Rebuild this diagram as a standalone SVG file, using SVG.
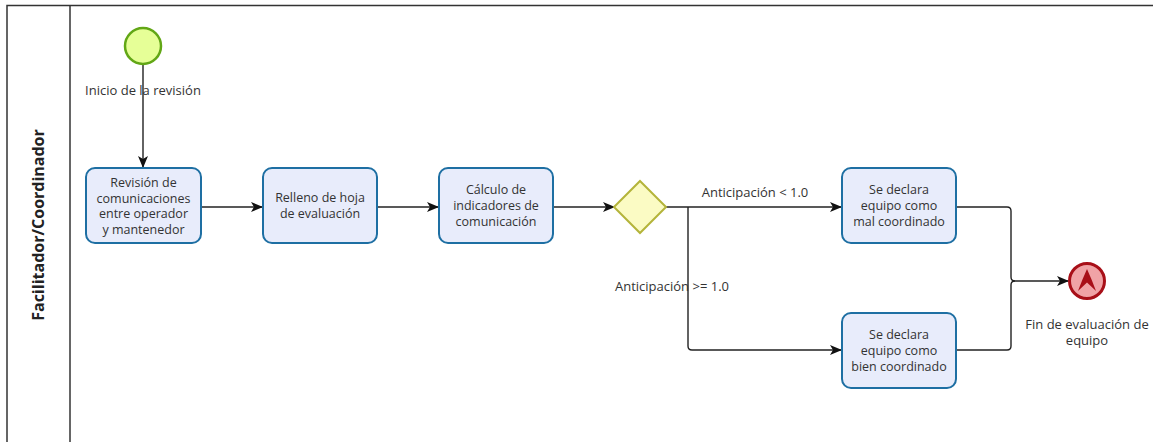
<svg xmlns="http://www.w3.org/2000/svg" width="1153" height="442" viewBox="0 0 1153 442">
  <style>
    .lbl { font-family: "Open Sans", "Noto Sans", sans-serif; font-size: 13px; fill: #333; text-anchor: middle; }
    .tl { font-family: "Open Sans", "Noto Sans", sans-serif; font-size: 12.5px; fill: #333; text-anchor: middle; }
    .task { fill: #e8ecfb; stroke: #1e6fa3; stroke-width: 2; }
    .flow { fill: none; stroke: #222; stroke-width: 1.4; }
    .pool { fill: none; stroke: #333; stroke-width: 1.5; }
  </style>
  <defs>
    <marker id="arrow" viewBox="0 0 12 10" refX="11" refY="5" markerWidth="12" markerHeight="10" markerUnits="userSpaceOnUse" orient="auto">
      <path d="M0,0 L12,5 L0,10 L3,5 z" fill="#111"/>
    </marker>
  </defs>
  <rect width="1153" height="442" fill="#fff"/>

  <!-- pool and lane -->
  <g id="pool">
    <path class="pool" d="M7,442 L7,5.5 L1153,5.5"/>
    <line class="pool" x1="70" y1="5.5" x2="70" y2="442"/>
    <text transform="translate(44,225) rotate(-90)" style="font-family:'Open Sans','Noto Sans',sans-serif;font-size:16px;font-weight:bold;fill:#222;text-anchor:middle">Facilitador/Coordinador</text>
  </g>

  <!-- sequence flows -->
  <g id="connectors">
    <path class="flow" d="M143,64 L143,167" marker-end="url(#arrow)"/>
    <path class="flow" d="M201,207 L262,207" marker-end="url(#arrow)"/>
    <path class="flow" d="M377,207 L438,207" marker-end="url(#arrow)"/>
    <path class="flow" d="M553,207 L614,207" marker-end="url(#arrow)"/>
    <path class="flow" d="M666,207 L841,207" marker-end="url(#arrow)"/>
    <path class="flow" d="M688,207 L688,346 Q688,350 692,350 L841,350" marker-end="url(#arrow)"/>
    <path class="flow" d="M956,207 L1007,207 Q1011,207 1011,211 L1011,277 Q1011,281 1015,281"/>
    <path class="flow" d="M956,350 L1007,350 Q1011,350 1011,346 L1011,285 Q1011,281 1015,281"/>
    <path class="flow" d="M1015,281 L1068,281" marker-end="url(#arrow)"/>
    <text class="lbl" x="755" y="197">Anticipación  &lt; 1.0</text>
    <text class="lbl" x="672" y="291">Anticipación &gt;= 1.0</text>
  </g>

  <g id="start">
    <circle cx="143" cy="46" r="18" fill="#e6ff97" stroke="#62a716" stroke-width="2.5"/>
    <text class="lbl" x="143" y="95">Inicio de la revisión</text>
  </g>

  <g id="task-revision">
    <rect class="task" x="86" y="168" width="115" height="75" rx="9"/>
    <text class="tl" x="143.5" y="187">Revisión de</text>
    <text class="tl" x="143.5" y="202.5">comunicaciones</text>
    <text class="tl" x="143.5" y="218">entre operador</text>
    <text class="tl" x="143.5" y="233.5">y mantenedor</text>
  </g>

  <g id="task-relleno">
    <rect class="task" x="263" y="168" width="114" height="75" rx="9"/>
    <text class="tl" x="320" y="202">Relleno de hoja</text>
    <text class="tl" x="320" y="218">de evaluación</text>
  </g>

  <g id="task-calculo">
    <rect class="task" x="439" y="168" width="114" height="75" rx="9"/>
    <text class="tl" x="496" y="194">Cálculo de</text>
    <text class="tl" x="496" y="210">indicadores de</text>
    <text class="tl" x="496" y="226">comunicación</text>
  </g>

  <g id="gateway">
    <path d="M640,181 L666,207 L640,233 L614,207 Z" fill="#fbfbc4" stroke="#b4b43a" stroke-width="2"/>
  </g>

  <g id="task-mal">
    <rect class="task" x="842" y="168" width="114" height="75" rx="9"/>
    <text class="tl" x="899" y="194">Se declara</text>
    <text class="tl" x="899" y="210">equipo como</text>
    <text class="tl" x="899" y="226">mal coordinado</text>
  </g>

  <g id="task-bien">
    <rect class="task" x="842" y="313" width="114" height="75" rx="9"/>
    <text class="tl" x="899" y="339">Se declara</text>
    <text class="tl" x="899" y="355">equipo como</text>
    <text class="tl" x="899" y="371">bien coordinado</text>
  </g>

  <g id="end">
    <circle cx="1087" cy="281" r="17.5" fill="#f0a3a6" stroke="#a80f18" stroke-width="3"/>
    <!-- escalation chevron -->
    <path d="M1087,269 Q1092,280 1096,291 L1087,282.5 L1078,291 Q1082,280 1087,269 Z" fill="#a80f18"/>
    <text class="lbl" x="1087" y="329">Fin de evaluación de</text>
    <text class="lbl" x="1087" y="345">equipo</text>
  </g>
</svg>
